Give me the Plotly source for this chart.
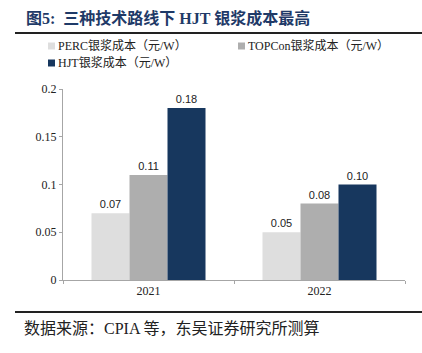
import plotly.graph_objects as go

categories = ["2021", "2022"]
series_names = ["PERC银浆成本（元/W）", "TOPCon银浆成本（元/W）", "HJT银浆成本（元/W）"]
perc = [0.07, 0.05]
topcon = [0.11, 0.08]
hjt = [0.18, 0.10]
labels_perc = ["0.07", "0.05"]
labels_topcon = ["0.11", "0.08"]
labels_hjt = ["0.18", "0.10"]
colors = ["#DEDEDE", "#AEAEAE", "#17375E"]
y_ticks = [0, 0.05, 0.1, 0.15, 0.2]
y_ticktext = ["0", "0.05", "0.1", "0.15", "0.2"]

SERIF = "Liberation Serif, Noto Sans CJK SC"
SANS = "Liberation Sans, Arial"

fig = go.Figure()
for name, vals, txt, col in zip(series_names, [perc, topcon, hjt],
                                [labels_perc, labels_topcon, labels_hjt], colors):
    fig.add_trace(go.Bar(
        x=categories, y=vals, name=name, text=txt,
        textposition="outside", cliponaxis=False,
        textfont=dict(family=SANS, size=11, color="#222222"),
        marker=dict(color=col, line=dict(width=0)),
        showlegend=False,
    ))

W, H = 422, 353
L, R, T, B = 63, 17, 89, 73
pw, ph = W - L - R, H - T - B

def px(x):
    return (x - L) / pw

def py(y):
    return (H - B - y) / ph

fig.update_layout(
    width=W, height=H,
    margin=dict(l=L, r=R, t=T, b=B, pad=0),
    paper_bgcolor="white", plot_bgcolor="white",
    barmode="group", bargap=1/3, bargroupgap=0,
    font=dict(family=SERIF, size=12, color="#222222"),
    xaxis=dict(
        showline=True, linecolor="#A6A6A6", linewidth=1,
        ticks="outside", ticklen=3, tickcolor="#A6A6A6", tickson="boundaries",
        tickfont=dict(family=SERIF, size=12, color="#222222"),
        showgrid=False,
    ),
    yaxis=dict(
        range=[0, 0.2], tickvals=y_ticks, ticktext=y_ticktext,
        showline=True, linecolor="#A6A6A6", linewidth=1,
        ticks="outside", ticklen=3, tickcolor="#A6A6A6",
        tickfont=dict(family=SERIF, size=12, color="#222222"),
        showgrid=False, zeroline=False,
    ),
)

# manual legend (two columns, wrapped like the reference)
legend_pos = [(48, 46), (238, 46), (48, 63)]
for (lx, ly), name, col in zip(legend_pos, series_names, colors):
    fig.add_shape(type="rect", xref="paper", yref="paper",
                  x0=px(lx), x1=px(lx + 7), y0=py(ly - 3.5), y1=py(ly + 3.5),
                  fillcolor=col, line=dict(width=0))
    fig.add_annotation(
        x=px(lx + 8), y=py(ly), xref="paper", yref="paper",
        xanchor="left", yanchor="middle", text=name, showarrow=False,
        font=dict(family=SERIF, size=12, color="#222222"),
    )

# title and source
fig.add_annotation(
    x=px(24), y=py(18), xref="paper", yref="paper", xanchor="left", yanchor="middle",
    text="<b>图5:  三种技术路线下 HJT 银浆成本最高</b>", showarrow=False,
    font=dict(family=SERIF, size=16, color="#1F3A68"),
)
fig.add_annotation(
    x=px(22), y=py(328), xref="paper", yref="paper", xanchor="left", yanchor="middle",
    text="数据来源：CPIA 等，东吴证券研究所测算", showarrow=False,
    font=dict(family=SERIF, size=16, color="#222222"),
)
for yy in (33, 312):
    fig.add_shape(type="line", xref="paper", yref="paper",
                  x0=px(15), x1=px(422), y0=py(yy), y1=py(yy),
                  line=dict(color="#222222", width=2))

fig.write_html("out.html")
